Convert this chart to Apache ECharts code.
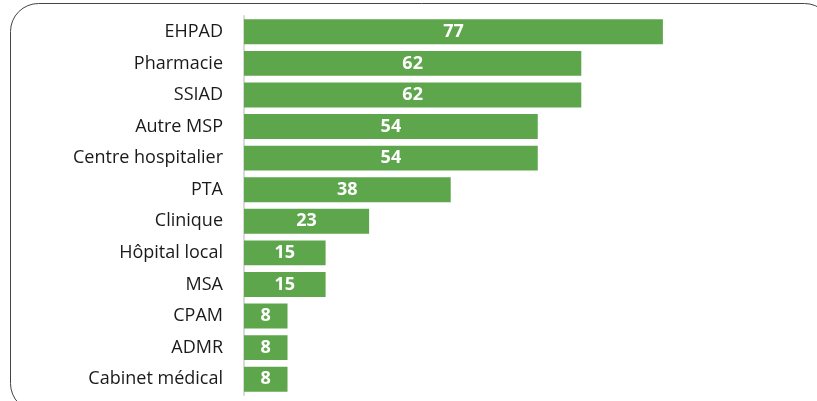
<!DOCTYPE html>
<html>
<head>
<meta charset="utf-8">
<script src="https://cdn.jsdelivr.net/npm/echarts@6/dist/echarts.min.js"></script>
<style>html,body{margin:0;padding:0;background:#fff}#c{width:817px;height:401px}</style>
</head>
<body>
<div id="c"></div>
<script>
const categories = ["EHPAD","Pharmacie","SSIAD","Autre MSP","Centre hospitalier","PTA","Clinique","Hôpital local","MSA","CPAM","ADMR","Cabinet médical"];
const values = [77,62,62,54,54,38,23,15,15,8,8,8];

const chart = echarts.init(document.getElementById('c'), null, {renderer:'canvas'});
chart.setOption({
  animation:false,
  backgroundColor:'#fff',
  graphic:[{
    type:'rect', silent:true, z:-1,
    shape:{x:10.5,y:3.5,width:822,height:408,r:28},
    style:{fill:'none',stroke:'#444',lineWidth:1}
  }],
  grid:{left:244,top:16,width:544,height:379,containLabel:false},
  xAxis:{type:'value',min:0,max:100,show:false},
  yAxis:{
    type:'category', data:categories, inverse:true,
    axisLine:{show:true,lineStyle:{color:'#d9d9d9',width:2}},
    axisTick:{show:false},
    axisLabel:{color:'#1a1a1a',fontFamily:'Open Sans',fontSize:18,margin:21}
  },
  series:[{
    type:'bar', data:values, barCategoryGap:'21%',
    itemStyle:{color:'#5ea64b'},
    label:{show:true,position:'inside',color:'#fff',fontFamily:'Open Sans',fontWeight:'bold',fontSize:18}
  }]
});
</script>
</body>
</html>
